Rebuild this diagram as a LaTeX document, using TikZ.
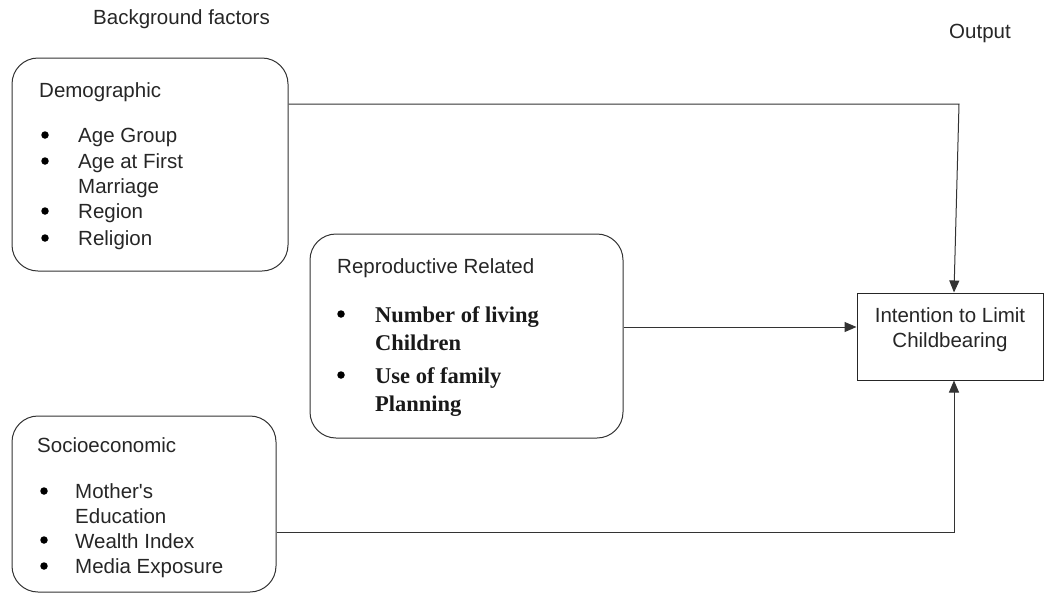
\documentclass[tikz,border=0pt]{standalone}
\usepackage{fontspec}
\setmainfont{Liberation Sans}
\newfontfamily\serifb{Liberation Serif}
\usetikzlibrary{arrows.meta,calc}
\begin{document}
\begin{tikzpicture}[x=1pt,y=-1pt,
  rbox/.style={draw=black!80,line width=1pt,rounded corners=26pt,inner sep=0pt},
  sbox/.style={draw=black!85,line width=1pt,inner sep=0pt},
  txt/.style={anchor=base west,inner sep=0pt,font=\fontsize{20.5}{25}\selectfont,text=black!85},
  stxt/.style={anchor=base west,inner sep=0pt,font=\serifb\bfseries\fontsize{22.5}{28}\selectfont,text=black!90},
  ctxt/.style={anchor=base,inner sep=0pt,font=\fontsize{20.5}{25}\selectfont,text=black!85},
  bul/.style={circle,fill=black,inner sep=0pt,minimum size=7.5pt},
  conn/.style={draw=black!80,line width=1pt},
  arr/.style={conn,-{Triangle[length=12pt,width=10pt]}}]
\useasboundingbox (0,0) rectangle (1044,595);
% headings
\node[txt] (bg) at (93,24) {Background factors};
\node[txt] (out) at (949,38) {Output};
% boxes
\node[rbox,minimum width=276pt,minimum height=213pt] (dem) at (150,164.5) {};
\node[rbox,minimum width=313pt,minimum height=204pt] (rep) at (466.5,336) {};
\node[rbox,minimum width=264pt,minimum height=176pt] (soc) at (144,504) {};
\node[sbox,minimum width=186pt,minimum height=87pt] (int) at (950,336.5) {};
% demographic
\node[txt] (d0) at (39,97) {Demographic};
\node[bul] (db1) at (45,135) {};
\node[txt] (d1) at (78,142) {Age Group};
\node[bul] (db2) at (45,161) {};
\node[txt] (d2) at (78,168) {Age at First};
\node[txt] (d3) at (78,193) {Marriage};
\node[bul] (db3) at (45,211) {};
\node[txt] (d4) at (78,218) {Region};
\node[bul] (db4) at (45,238) {};
\node[txt] (d5) at (78,245) {Religion};
% reproductive
\node[txt] (r0) at (337,273) {Reproductive Related};
\node[bul] (rb1) at (341,314) {};
\node[stxt] (r1) at (375,322) {Number of living};
\node[stxt] (r2) at (375,350) {Children};
\node[bul] (rb2) at (341,375) {};
\node[stxt] (r3) at (375,383) {Use of family};
\node[stxt] (r4) at (375,411) {Planning};
% socioeconomic
\node[txt] (s0) at (37,452) {Socioeconomic};
\node[bul] (sb1) at (44,491) {};
\node[txt] (s1) at (75,498) {Mother\textquotesingle s};
\node[txt] (s2) at (75,523) {Education};
\node[bul] (sb2) at (44,540) {};
\node[txt] (s3) at (75,548) {Wealth Index};
\node[bul] (sb3) at (44,566) {};
\node[txt] (s4) at (75,573) {Media Exposure};
% output box text
\node[ctxt] (i1) at (950,322) {Intention to Limit};
\node[ctxt] (i2) at (950,347) {Childbearing};
% connectors
\coordinate (dc) at (959,104);
\coordinate (dd) at (954,0);
\draw[arr] (dem.east |- dc) -- (dc) -- (int.north -| dd);
\coordinate (rc) at (856,327);
\draw[arr] (rep.east |- rc) -- (int.west |- rc);
\coordinate (sc) at (954,532);
\draw[arr] (soc.east |- sc) -- (sc) -- (int.south -| sc);
\end{tikzpicture}
\end{document}
